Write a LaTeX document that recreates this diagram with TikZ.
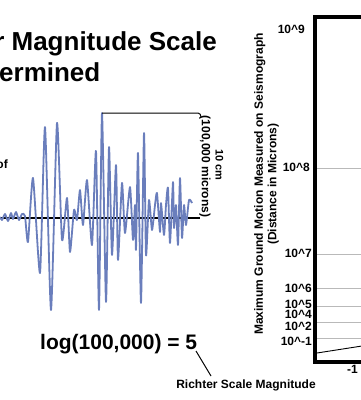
\documentclass[tikz,border=0pt]{standalone}
\usepackage{fontspec}
\setmainfont{Liberation Sans}
\definecolor{wave}{RGB}{106,126,188}

\begin{document}
\begin{tikzpicture}
    [x=1pt, y=-1pt, every node/.style={inner sep=0pt, font=\bfseries},
     big/.style={font=\fontsize{26}{30}\selectfont\bfseries},
     lab/.style={font=\fontsize{12}{13.5}\selectfont\bfseries},
     grid/.style={gray!55, line width=.8pt}]
    \useasboundingbox (0,0) rectangle (360,400);
    % heading (cut at the left edge)
    \node[big, anchor=base east] (t1) at (217,50.5) {r Magnitude Scale};
    \node[big, anchor=base west] (t2) at (-1,81.5) {ermined};
    \node[lab, anchor=base east] (of) at (8,168) {of};
    % seismogram
    \draw[line width=1.2pt] (0,218) -- (200,218);
    \draw[wave, line width=1.8pt, line join=round] plot[smooth, tension=.35] coordinates {
      (0,217) (2,220) (5,214) (8,221) (11,213) (13,219) (16,212) (19,220)
      (22,214) (25,216) (28,242) (33,178) (40,273) (45,127) (51,310) (57,123)
      (62,240) (67,198) (70,252) (74,210) (77,220) (80,190) (83,225) (87,180)
      (92,245) (96,151) (99,310) (102,113) (106,302) (109,147) (112,255) (116,165)
      (118,260) (122,183) (125,233) (130,187) (133,240) (135,205) (136,250) (138,153)
      (141,303) (144,133) (146,255) (149,200) (152,230) (155,205) (157,193) (160,232)
      (161,203) (164,235) (166,205) (168,188) (170,243) (173,182) (174,228) (176,205)
      (178,245) (180,178) (182,238) (184,205) (186,225) (189,200) (192,203)};
    \coordinate (top) at (102,113);
    \coordinate (tr) at (198,113);
    \draw[line width=1pt] (top) -- (tr) to[out=0, in=90] (201,117);
    \node[lab, rotate=-90] (micro) at (205,166.5) {(100,000 microns)};
    \node[font=\fontsize{11}{13}\selectfont\bfseries, rotate=-90] (cm) at (219.5,165) {10 cm};
    \node[font=\fontsize{21}{24}\selectfont\bfseries, anchor=base west] (eq) at (40,349) {log(100,000) = 5};
    \node[lab, anchor=base] (rsm) at (246,388) {Richter Scale Magnitude};
    \coordinate (five) at (196,351);
    \coordinate (rs) at (211,376);
    \draw[line width=1pt] (five) -- (rs);
    % chart
    \foreach \gy in {168,254,288,306,322,338}
      \draw[grid] (317,\gy) -- (362,\gy);
    \draw[line width=.9pt] (317,353) -- (362,346);
    \draw[line width=4.5pt] (365,17) -- (315,17) -- (315,362) -- (365,362);
    \foreach \lab/\ly/\lx [count=\i] in {9/29/305, 8/167/310, 7/253/312, 6/288/312,
        5/304/312, 4/314/312, 2/326/312, -1/341/312}
      \node[lab, anchor=east] (e\i) at (\lx,\ly) {10\textasciicircum\lab};
    \node[lab, anchor=west] (m1) at (347,369) {-1};
    \node[lab, rotate=90, align=center] (ytitle) at (266.5,184)
      {Maximum Ground Motion Measured on Seismograph\\(Distance in Microns)};
\end{tikzpicture}
\end{document}
